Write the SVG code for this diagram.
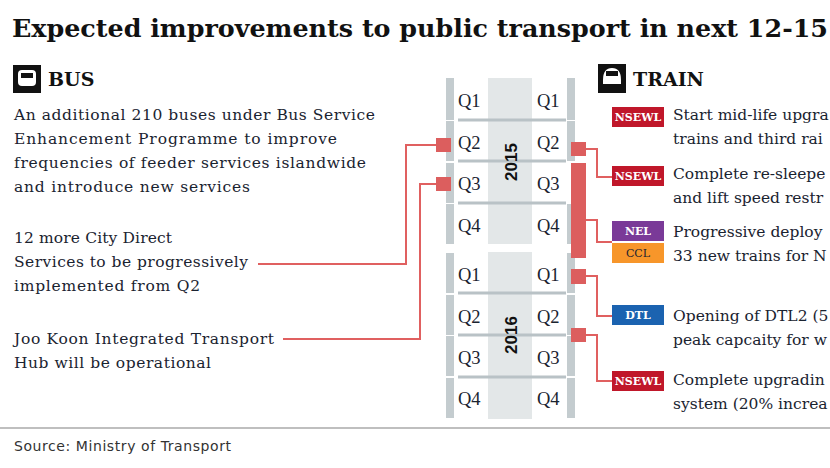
<svg xmlns="http://www.w3.org/2000/svg" width="830" height="468" viewBox="0 0 830 468">
<style>
.t{font-family:"DejaVu Serif",serif;font-size:15.5px;fill:#1a2330}
.q{font-family:"Liberation Serif",serif;font-size:18.5px;fill:#1a2330}
.h{font-family:"DejaVu Serif",serif;font-weight:bold;fill:#111}
.yr{font-family:"Liberation Sans",sans-serif;font-weight:bold;font-size:17px;fill:#111}
.b{font-family:"DejaVu Serif",serif;font-weight:bold;font-size:11px;fill:#fff}
.bar{fill:#c4cccf}
.sep{stroke:#b9c2c6;stroke-width:3}
.c{fill:none;stroke:#e06060;stroke-width:2}
.m{fill:#dc5e5e}
</style>
<rect width="830" height="468" fill="#fff"/>
<text class="h" x="12" y="37" font-size="25" textLength="816" lengthAdjust="spacingAndGlyphs">Expected improvements to public transport in next 12-15</text>
<g id="bus-head"><rect x="13" y="65" width="28" height="28" fill="#111"/><rect x="18" y="70" width="18" height="16" rx="4" fill="#fff"/><rect x="21" y="73" width="12" height="5" fill="#111"/><text class="h" x="48" y="86" font-size="19">BUS</text></g>
<g id="train-head"><rect x="598" y="64" width="28" height="29" fill="#111"/><path d="M603 80 Q603 68 612 68 Q621 68 621 80 L621 84 L603 84Z" fill="#fff"/><rect x="606" y="71" width="12" height="5" fill="#111"/><text class="h" x="633" y="86" font-size="19">TRAIN</text></g>
<g id="timeline">
<rect x="488" y="78" width="44" height="166" fill="#e3e7e8"/>
<rect x="488" y="252" width="44" height="167" fill="#e3e7e8"/>
<rect class="bar" x="446" y="78" width="8" height="42"/><rect class="bar" x="446" y="121" width="8" height="40"/><rect class="bar" x="446" y="163" width="8" height="40"/><rect class="bar" x="446" y="204" width="8" height="40"/>
<rect class="bar" x="567" y="78" width="8" height="42"/><rect class="bar" x="567" y="121" width="8" height="40"/><rect class="bar" x="567" y="204" width="8" height="40"/>
<rect class="bar" x="446" y="253" width="8" height="40"/><rect class="bar" x="446" y="295" width="8" height="40"/><rect class="bar" x="446" y="336" width="8" height="40"/><rect class="bar" x="446" y="378" width="8" height="40"/>
<rect class="bar" x="567" y="253" width="8" height="40"/><rect class="bar" x="567" y="295" width="8" height="40"/><rect class="bar" x="567" y="336" width="8" height="40"/><rect class="bar" x="567" y="378" width="8" height="40"/>
<line class="sep" x1="458" y1="120" x2="566" y2="120"/><line class="sep" x1="458" y1="161" x2="566" y2="161"/><line class="sep" x1="458" y1="203" x2="566" y2="203"/>
<line class="sep" x1="458" y1="293" x2="566" y2="293"/><line class="sep" x1="458" y1="335" x2="566" y2="335"/><line class="sep" x1="458" y1="377" x2="566" y2="377"/>
<g class="q"><text x="458" y="107">Q1</text><text x="458" y="149">Q2</text><text x="458" y="190">Q3</text><text x="458" y="232">Q4</text>
<text x="537" y="107">Q1</text><text x="537" y="149">Q2</text><text x="537" y="190">Q3</text><text x="537" y="232">Q4</text>
<text x="458" y="281">Q1</text><text x="458" y="323">Q2</text><text x="458" y="364">Q3</text><text x="458" y="405">Q4</text>
<text x="537" y="281">Q1</text><text x="537" y="323">Q2</text><text x="537" y="364">Q3</text><text x="537" y="405">Q4</text></g>
<text class="yr" transform="translate(517,162) rotate(-90)" text-anchor="middle">2015</text>
<text class="yr" transform="translate(517,335) rotate(-90)" text-anchor="middle">2016</text>
</g>
<g id="connectors">
<polyline class="c" points="436,145 406,145 406,264 258,264"/>
<polyline class="c" points="436,184 420,184 420,339 283,339"/>
<polyline class="c" points="586,149 597,149 597,177 612,177"/>
<polyline class="c" points="586,220 597,220 597,242 612,242"/>
<polyline class="c" points="586,276 597,276 597,316 612,316"/>
<polyline class="c" points="586,335 597,335 597,381 612,381"/>
<rect class="m" x="436" y="138" width="15" height="14"/>
<rect class="m" x="436" y="177" width="15" height="14"/>
<rect class="m" x="571" y="142" width="15" height="14"/>
<rect class="m" x="571" y="163" width="15" height="95"/>
<rect class="m" x="571" y="269" width="15" height="15"/>
<rect class="m" x="571" y="328" width="15" height="14"/>
</g>
<g id="bus1"><text class="t" x="14" y="120" textLength="361">An additional 210 buses under Bus Service</text><text class="t" x="14" y="144" textLength="323">Enhancement Programme to improve</text><text class="t" x="14" y="168" textLength="352">frequencies of feeder services islandwide</text><text class="t" x="14" y="192" textLength="236">and introduce new services</text></g>
<g id="bus2"><text class="t" x="14" y="243" textLength="158">12 more City Direct</text><text class="t" x="14" y="267" textLength="234">Services to be progressively</text><text class="t" x="14" y="291" textLength="186">implemented from Q2</text></g>
<g id="bus3"><text class="t" x="14" y="344" textLength="260">Joo Koon Integrated Transport</text><text class="t" x="14" y="368" textLength="197">Hub will be operational</text></g>
<g id="tr1"><rect x="612" y="107" width="52" height="20" fill="#c0172a"/><text class="b" x="638" y="121" text-anchor="middle">NSEWL</text><text class="t" x="673" y="120">Start mid-life upgra</text><text class="t" x="673" y="144">trains and third rai</text></g>
<g id="tr2"><rect x="612" y="166" width="52" height="20" fill="#c0172a"/><text class="b" x="638" y="180" text-anchor="middle">NSEWL</text><text class="t" x="673" y="179">Complete re-sleepe</text><text class="t" x="673" y="203">and lift speed restr</text></g>
<g id="tr3"><rect x="612" y="221" width="52" height="20" fill="#7a3a98"/><text class="b" x="638" y="235" text-anchor="middle">NEL</text><rect x="612" y="243" width="52" height="20" fill="#f7962a"/><text class="b" x="638" y="257" text-anchor="middle" style="fill:#1a2330;font-weight:normal">CCL</text><text class="t" x="673" y="237">Progressive deploy</text><text class="t" x="673" y="261">33 new trains for N</text></g>
<g id="tr4"><rect x="612" y="305" width="52" height="20" fill="#1b63b0"/><text class="b" x="638" y="319" text-anchor="middle">DTL</text><text class="t" x="673" y="321">Opening of DTL2 (5</text><text class="t" x="673" y="345">peak capcaity for w</text></g>
<g id="tr5"><rect x="612" y="371" width="52" height="20" fill="#c0172a"/><text class="b" x="638" y="385" text-anchor="middle">NSEWL</text><text class="t" x="673" y="385">Complete upgradin</text><text class="t" x="673" y="409">system (20% increa</text></g>
<line x1="0" y1="428" x2="830" y2="428" stroke="#aaa" stroke-width="1.5"/>
<text x="14" y="451" font-family="DejaVu Sans,sans-serif" font-size="14" fill="#333" textLength="217">Source: Ministry of Transport</text>
</svg>
